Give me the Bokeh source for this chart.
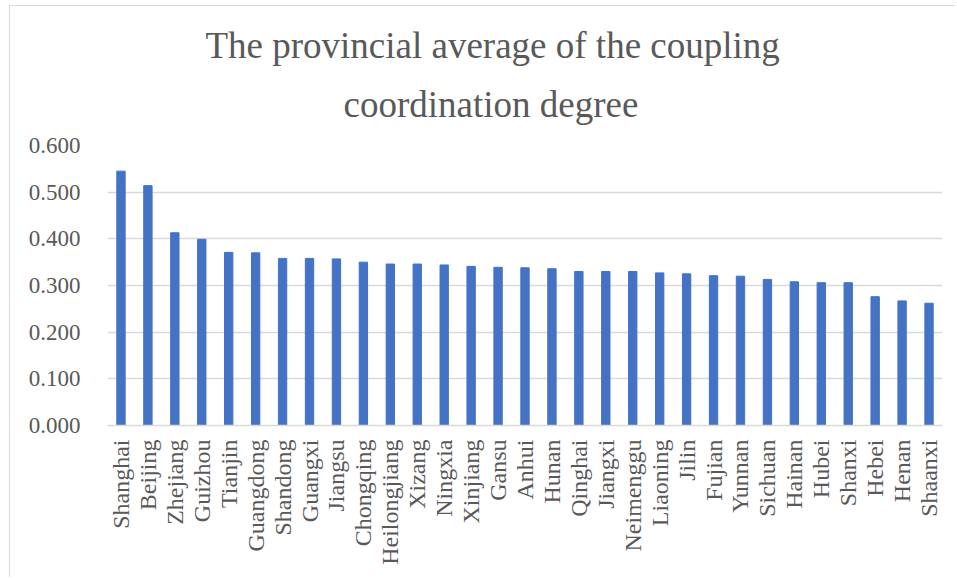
import math
from bokeh.plotting import figure
from bokeh.models import Title, NumeralTickFormatter, FixedTicker
from bokeh.embed import file_html
from bokeh.resources import INLINE

provinces = ["Shanghai", "Beijing", "Zhejiang", "Guizhou", "Tianjin", "Guangdong",
             "Shandong", "Guangxi", "Jiangsu", "Chongqing", "Heilongjiang", "Xizang",
             "Ningxia", "Xinjiang", "Gansu", "Anhui", "Hunan", "Qinghai", "Jiangxi",
             "Neimenggu", "Liaoning", "Jilin", "Fujian", "Yunnan", "Sichuan", "Hainan",
             "Hubei", "Shanxi", "Hebei", "Henan", "Shaanxi"]
values = [0.545, 0.514, 0.413, 0.399, 0.371, 0.370, 0.358, 0.358, 0.357, 0.350,
          0.346, 0.346, 0.344, 0.341, 0.339, 0.338, 0.336, 0.330, 0.330, 0.330,
          0.327, 0.325, 0.321, 0.320, 0.313, 0.308, 0.306, 0.306, 0.276, 0.267, 0.262]
y_ticks = [0.0, 0.1, 0.2, 0.3, 0.4, 0.5, 0.6]
title_line1 = "The provincial average of the coupling"
title_line2 = "coordination degree"

FONT = "Liberation Serif"
TXT = "#595959"
GRID = "#d9d9d9"

p = figure(x_range=provinces, y_range=(0, 0.6), width=946, height=572,
           output_backend="svg", toolbar_location=None, title=None,
           min_border_left=97, min_border_right=14, min_border_top=139,
           min_border_bottom=153)
p.styles = {"margin-left": "9px", "margin-top": "5px",
            "border-left": "1px solid #d9d9d9", "border-top": "1px solid #d9d9d9"}

p.vbar(x=provinces, top=values, width=0.31, color="#4472C4")

t2 = Title(text=title_line2, align="left", text_font=FONT, text_font_size="37px",
           text_color=TXT, text_font_style="normal", offset=236, standoff=41)
t1 = Title(text=title_line1, align="left", text_font=FONT, text_font_size="37px",
           text_color=TXT, text_font_style="normal", offset=98, standoff=-8)
p.add_layout(t2, "above")
p.add_layout(t1, "above")

p.outline_line_color = None
p.xgrid.grid_line_color = None
p.ygrid.grid_line_color = GRID
p.ygrid.grid_line_width = 1.5

p.yaxis.ticker = FixedTicker(ticks=y_ticks)
p.yaxis.formatter = NumeralTickFormatter(format="0.000")
p.yaxis.axis_line_color = None
p.yaxis.major_tick_line_color = None
p.yaxis.minor_tick_line_color = None
p.yaxis.major_label_standoff = 21
p.yaxis.major_label_text_font = FONT
p.yaxis.major_label_text_font_size = "23px"
p.yaxis.major_label_text_color = TXT

p.xaxis.axis_line_color = GRID
p.xaxis.axis_line_width = 1.5
p.xaxis.major_tick_line_color = None
p.xaxis.minor_tick_line_color = None
p.xaxis.major_label_orientation = math.pi / 2
p.xaxis.major_label_standoff = 8
p.xaxis.major_label_text_font = FONT
p.xaxis.major_label_text_font_size = "24px"
p.xaxis.major_label_text_color = TXT

open("out.html", "w").write(file_html(p, INLINE))
